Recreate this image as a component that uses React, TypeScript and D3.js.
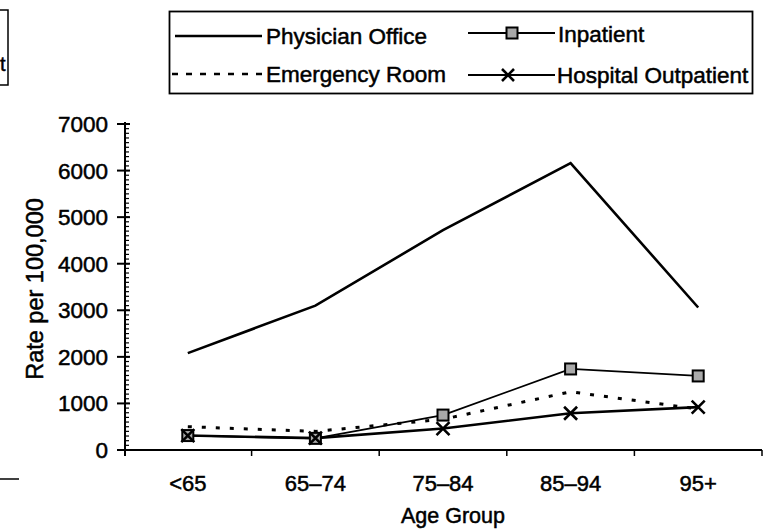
import React from "react";
import * as d3 from "d3";

const categories = ["<65", "65–74", "75–84", "85–94", "95+"];
const physicianOffice = [2080, 3100, 4720, 6160, 3060];
const inpatient = [310, 250, 750, 1740, 1590];
const emergencyRoom = [500, 400, 660, 1250, 880];
const hospitalOutpatient = [310, 255, 460, 790, 920];
const yTicks = [0, 1000, 2000, 3000, 4000, 5000, 6000, 7000];
const yMinorTicks = d3.range(0, 7001, 100);

const W = 766;
const H = 530;
const FONT = "'Liberation Sans', Arial, Helvetica, sans-serif";

export default function App() {
  const x = d3.scaleBand<string>().domain(categories).range([124, 762]).paddingInner(0).paddingOuter(0);
  const y = d3.scaleLinear().domain([0, 7000]).range([450, 124]);
  const cx = (c: string) => (x(c) as number) + x.bandwidth() / 2;
  const line = d3
    .line<number>()
    .x((_, i) => cx(categories[i]))
    .y((v) => y(v));

  const square = (px: number, py: number, key: string, s = 11) => (
    <rect key={key} x={px - s / 2} y={py - s / 2} width={s} height={s} fill="#a9a9a9" stroke="#000" strokeWidth={2} />
  );
  const cross = (px: number, py: number, key: string, s = 6.5) => (
    <path
      key={key}
      d={`M${px - s},${py - s}L${px + s},${py + s}M${px - s},${py + s}L${px + s},${py - s}`}
      stroke="#000"
      strokeWidth={2.6}
      fill="none"
    />
  );

  const textStyle = { fontFamily: FONT, fontSize: 22, fill: "#000", stroke: "#000", strokeWidth: 0.5 } as React.CSSProperties;

  return (
    <svg width={W} height={H} style={{ position: "absolute", left: 0, top: 0, background: "#fff" }}>
      <rect x={0} y={0} width={W} height={H} fill="#fff" />
      {/* fragments of neighbouring figure */}
      <path d="M0,10L8,10L8,85L0,85" fill="none" stroke="#000" strokeWidth={1.5} />
      <text x={0} y={71} style={{ ...textStyle, fontSize: 20 }}>t</text>
      <line x1={0} x2={19} y1={479} y2={479} stroke="#000" strokeWidth={1.5} />

      {/* Legend */}
      <rect x={169.5} y={11.5} width={583} height={82} fill="none" stroke="#000" strokeWidth={1.8} />
      <line x1={175} x2={262} y1={36} y2={36} stroke="#000" strokeWidth={2.5} />
      <text x={266} y={44} style={{ ...textStyle, fontSize: 22.5 }}>Physician Office</text>
      <line x1={172} x2={262} y1={74} y2={74} stroke="#000" strokeWidth={2.5} strokeDasharray="6,8" />
      <text x={266} y={82} style={{ ...textStyle, fontSize: 22.5 }}>Emergency Room</text>
      <line x1={468} x2={555} y1={33} y2={33} stroke="#000" strokeWidth={1.8} />
      {square(512, 33, "lsq", 11)}
      <text x={558} y={42} style={{ ...textStyle, fontSize: 22.5 }}>Inpatient</text>
      <line x1={468} x2={555} y1={75} y2={75} stroke="#000" strokeWidth={2} />
      {cross(508, 75, "lx", 6)}
      <text x={557} y={83} style={{ ...textStyle, fontSize: 22.5 }}>Hospital Outpatient</text>

      {/* Y axis */}
      <line x1={125} x2={125} y1={122} y2={456} stroke="#000" strokeWidth={2} />
      {yMinorTicks.map((t) => (
        <line key={"m" + t} x1={125} x2={129} y1={y(t)} y2={y(t)} stroke="#000" strokeWidth={1.2} />
      ))}
      {yTicks.map((t) => (
        <g key={"t" + t}>
          <line x1={117} x2={130} y1={y(t)} y2={y(t)} stroke="#000" strokeWidth={2} />
          <text x={108} y={y(t) + 8} textAnchor="end" style={{ ...textStyle, fontSize: 22.5 }}>{t}</text>
        </g>
      ))}
      <text
        transform={`translate(43,289) rotate(-90)`}
        textAnchor="middle"
        style={{ ...textStyle, fontSize: 23.5 }}
      >
        Rate per 100,000
      </text>

      {/* X axis */}
      <line x1={119} x2={762} y1={450} y2={450} stroke="#000" strokeWidth={2} />
      {categories.map((c) => (
        <line key={"xt" + c} x1={(x(c) as number) + x.bandwidth()} x2={(x(c) as number) + x.bandwidth()} y1={450} y2={456} stroke="#000" strokeWidth={1.5} />
      ))}
      {categories.map((c) => (
        <text key={"xl" + c} x={cx(c)} y={491} textAnchor="middle" style={textStyle}>{c}</text>
      ))}
      <text x={453} y={523} textAnchor="middle" style={{ ...textStyle, fontSize: 21.5 }}>Age Group</text>

      {/* Series */}
      <path d={line(physicianOffice) || ""} fill="none" stroke="#000" strokeWidth={2.6} />
      <path d={line(emergencyRoom) || ""} fill="none" stroke="#000" strokeWidth={3} strokeDasharray="4,10" />
      <path d={line(hospitalOutpatient) || ""} fill="none" stroke="#000" strokeWidth={2.6} />
      <path d={line(inpatient) || ""} fill="none" stroke="#000" strokeWidth={1.8} />
      {inpatient.map((v, i) => square(cx(categories[i]), y(v), "sq" + i))}
      {hospitalOutpatient.map((v, i) => cross(cx(categories[i]), y(v), "x" + i))}
    </svg>
  );
}
